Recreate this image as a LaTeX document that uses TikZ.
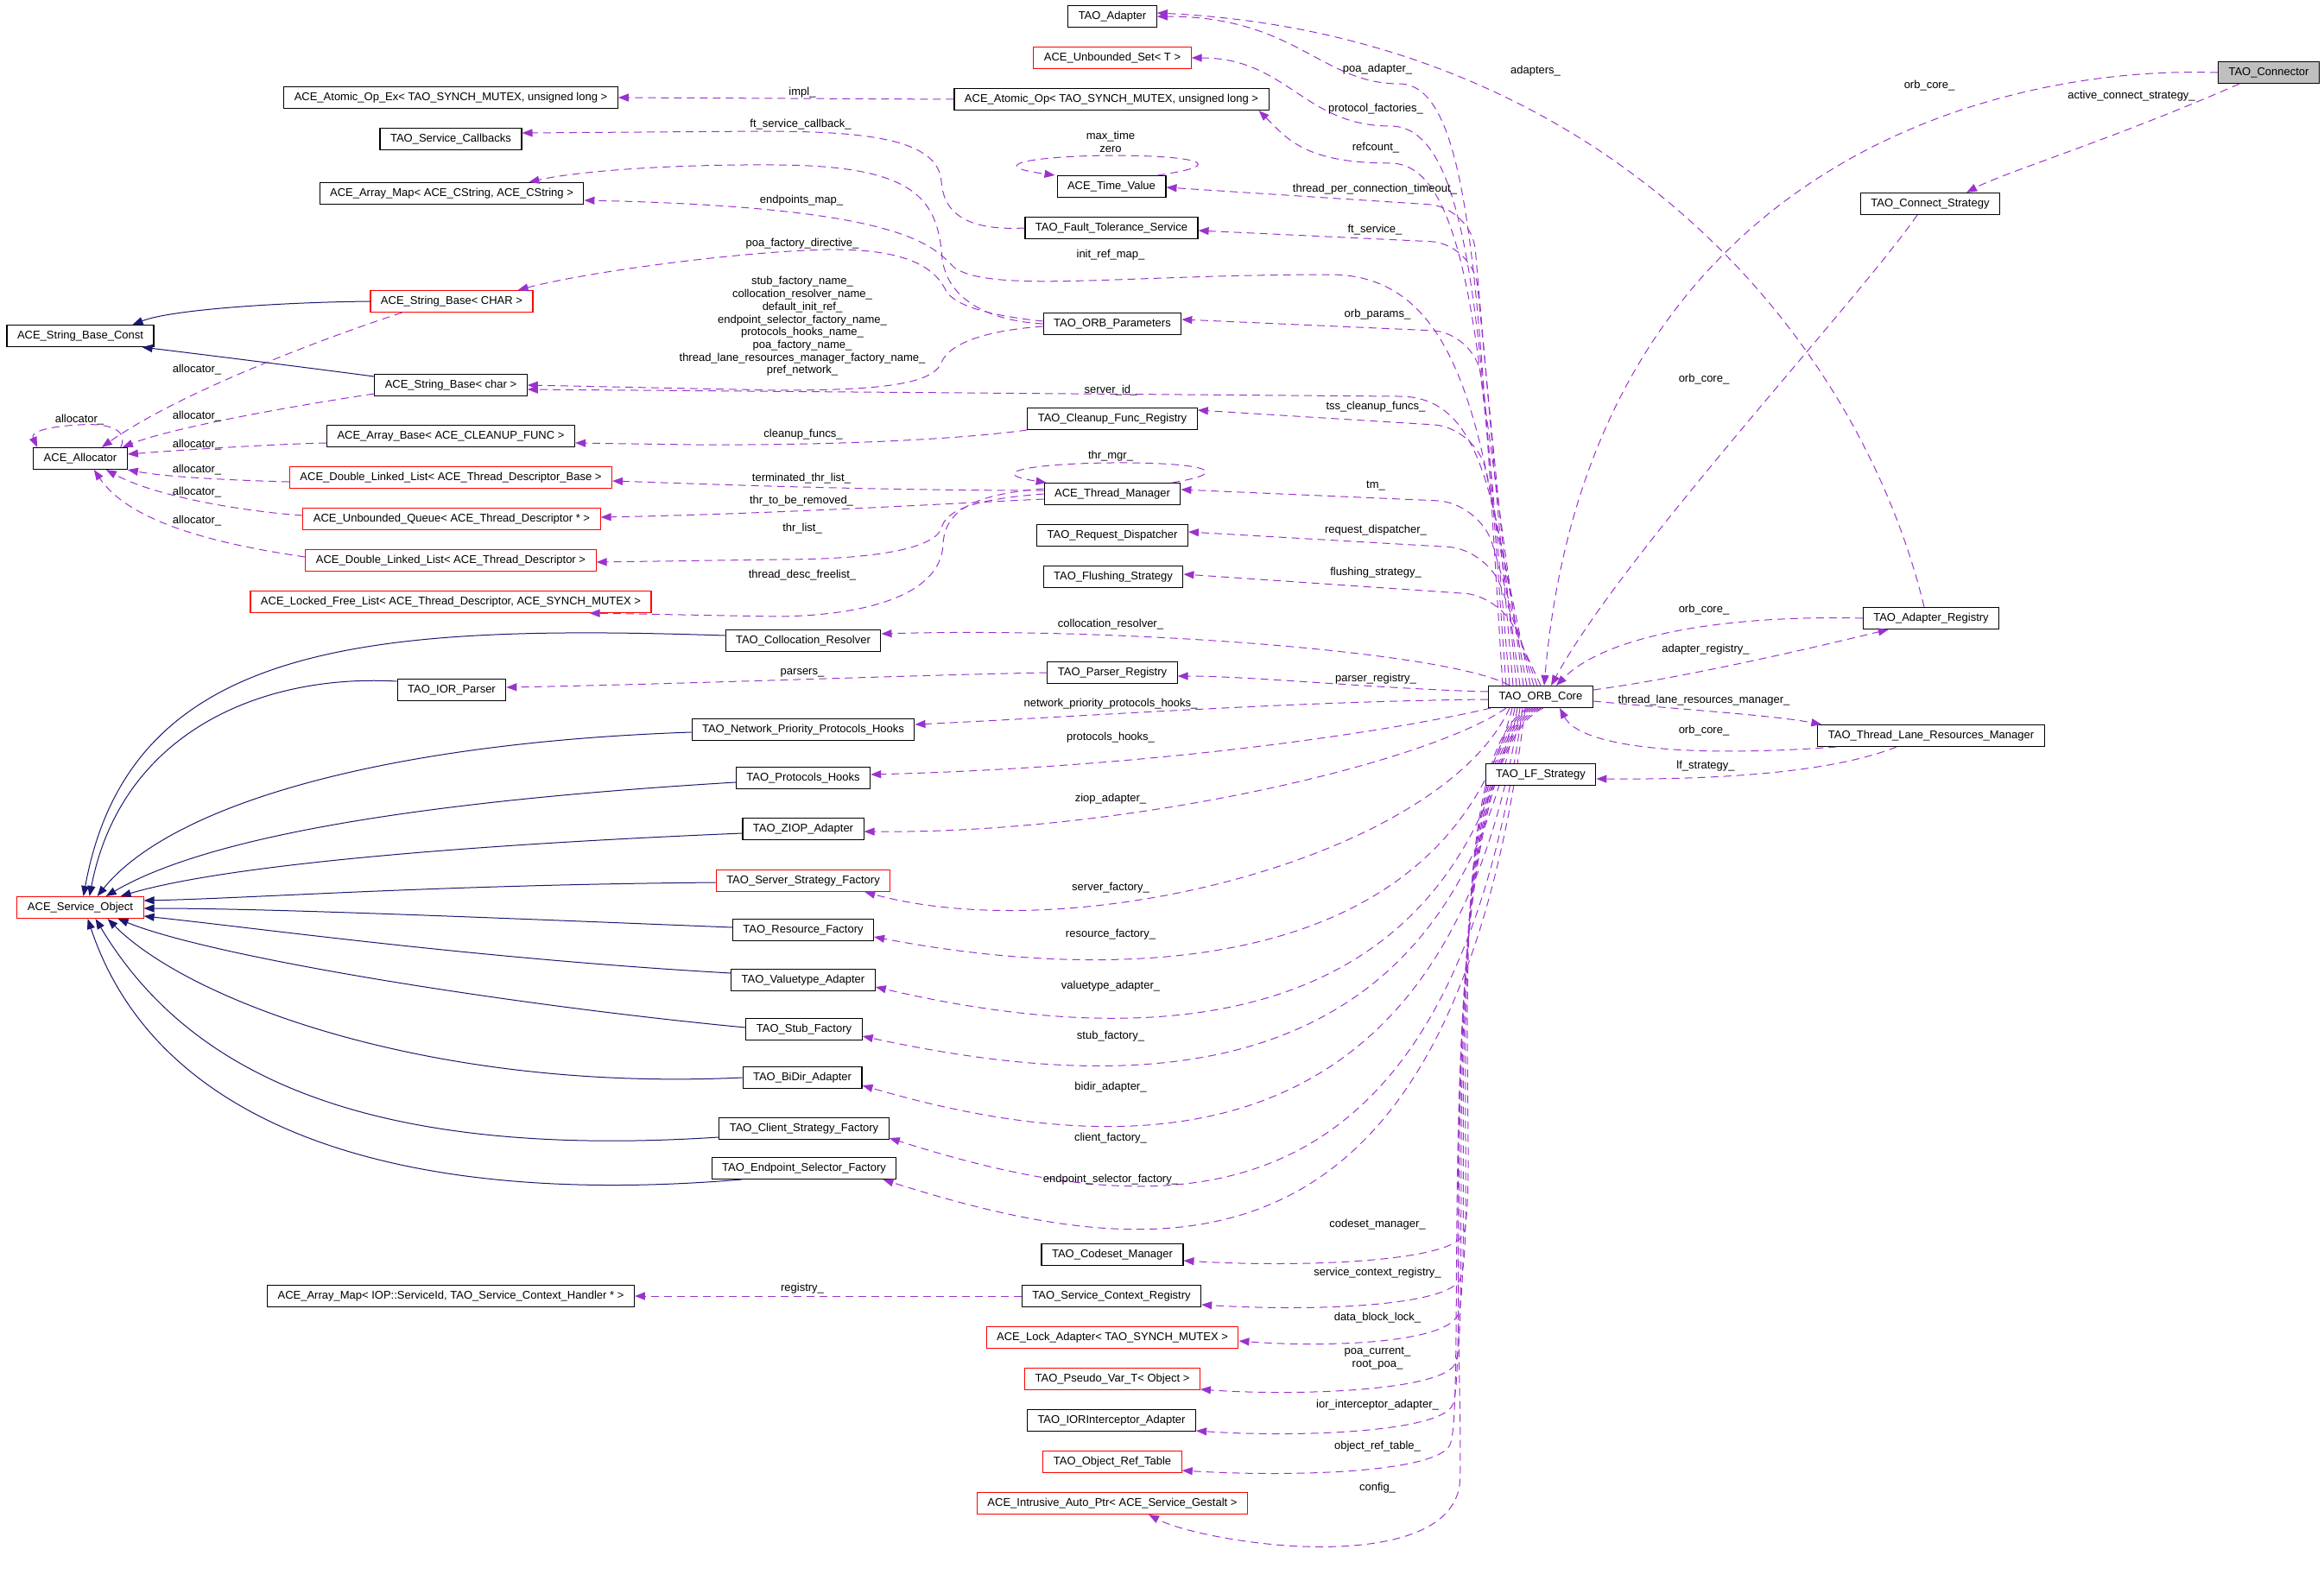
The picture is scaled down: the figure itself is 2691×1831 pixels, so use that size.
\documentclass[tikz,border=0pt]{standalone}
\usepackage{fontspec}
\setmainfont{Liberation Sans}
\usepackage{tikz}
\usetikzlibrary{arrows.meta}
\definecolor{usepurple}{HTML}{9A32CD}
\definecolor{inhblue}{HTML}{191970}
\definecolor{curgray}{HTML}{BFBFBF}

\begin{document}
\begin{tikzpicture}[
	x=1pt, y=-1pt,
	cls/.style={rectangle, draw=black, line width=1.1pt, fill=white, minimum height=25pt, inner xsep=12pt, inner ysep=0pt, font=\fontsize{13}{15}\selectfont},
	inc/.style={cls, draw=red},
	cur/.style={cls, fill=curgray},
	lbl/.style={inner sep=0pt, align=center, font=\fontsize{13}{15}\selectfont},
	use/.style={draw=usepurple, line width=1pt, dash pattern=on 9pt off 6pt, -{Triangle[length=12pt,width=9pt]}},
	inh/.style={draw=inhblue, line width=1pt, -{Triangle[length=12pt,width=9pt]}}
	]
	\useasboundingbox (0,0) rectangle (2691,1831);
	% Classes, left columns
	\node[cls] (sbconst) at (93,389) {ACE\_String\_Base\_Const};
	\node[cls] (alloc) at (93,531) {ACE\_Allocator};
	\node[inc] (svcobj) at (93,1051) {ACE\_Service\_Object};
	\node[cls] (atomex) at (522,113) {ACE\_Atomic\_Op\_Ex< TAO\_SYNCH\_MUTEX, unsigned long >};
	\node[cls] (svccb) at (522,161) {TAO\_Service\_Callbacks};
	\node[cls] (amapcs) at (523,224) {ACE\_Array\_Map< ACE\_CString, ACE\_CString >};
	\node[inc] (sbCHAR) at (523,349) {ACE\_String\_Base< CHAR >};
	\node[cls] (sbchar) at (522,446) {ACE\_String\_Base< char >};
	\node[cls] (abase) at (522,505) {ACE\_Array\_Base< ACE\_CLEANUP\_FUNC >};
	\node[inc] (dllbase) at (522,553) {ACE\_Double\_Linked\_List< ACE\_Thread\_Descriptor\_Base >};
	\node[inc] (uqueue) at (523,601) {ACE\_Unbounded\_Queue< ACE\_Thread\_Descriptor * >};
	\node[inc] (dlltd) at (522,649) {ACE\_Double\_Linked\_List< ACE\_Thread\_Descriptor >};
	\node[inc] (lfl) at (522,697) {ACE\_Locked\_Free\_List< ACE\_Thread\_Descriptor, ACE\_SYNCH\_MUTEX >};
	\node[cls] (iorp) at (523,799) {TAO\_IOR\_Parser};
	\node[cls] (amapiop) at (522,1501) {ACE\_Array\_Map< IOP::ServiceId, TAO\_Service\_Context\_Handler * >};
	% Service object children
	\node[cls] (collres) at (930,742) {TAO\_Collocation\_Resolver};
	\node[cls] (nprio) at (930,845) {TAO\_Network\_Priority\_Protocols\_Hooks};
	\node[cls] (phooks) at (930,901) {TAO\_Protocols\_Hooks};
	\node[cls] (ziop) at (930,960) {TAO\_ZIOP\_Adapter};
	\node[inc] (ssf) at (930,1020) {TAO\_Server\_Strategy\_Factory};
	\node[cls] (rf) at (930,1077) {TAO\_Resource\_Factory};
	\node[cls] (vta) at (930,1135) {TAO\_Valuetype\_Adapter};
	\node[cls] (stubf) at (931,1192) {TAO\_Stub\_Factory};
	\node[cls] (bidir) at (929,1248) {TAO\_BiDir\_Adapter};
	\node[cls] (csf) at (931,1307) {TAO\_Client\_Strategy\_Factory};
	\node[cls] (esf) at (931,1353) {TAO\_Endpoint\_Selector\_Factory};
	% Middle column
	\node[cls] (tadapter) at (1288,19) {TAO\_Adapter};
	\node[inc] (uset) at (1288,67) {ACE\_Unbounded\_Set< T >};
	\node[cls] (atom) at (1287,115) {ACE\_Atomic\_Op< TAO\_SYNCH\_MUTEX, unsigned long >};
	\node[cls] (tv) at (1287,216) {ACE\_Time\_Value};
	\node[cls] (fts) at (1287,264) {TAO\_Fault\_Tolerance\_Service};
	\node[cls] (orbp) at (1288,375) {TAO\_ORB\_Parameters};
	\node[cls] (cfr) at (1288,485) {TAO\_Cleanup\_Func\_Registry};
	\node[cls] (thrmgr) at (1288,572) {ACE\_Thread\_Manager};
	\node[cls] (rdisp) at (1288,620) {TAO\_Request\_Dispatcher};
	\node[cls] (flush) at (1289,668) {TAO\_Flushing\_Strategy};
	\node[cls] (preg) at (1288,779) {TAO\_Parser\_Registry};
	\node[cls] (csm) at (1288,1453) {TAO\_Codeset\_Manager};
	\node[cls] (scr) at (1287,1501) {TAO\_Service\_Context\_Registry};
	\node[inc] (lockad) at (1288,1549) {ACE\_Lock\_Adapter< TAO\_SYNCH\_MUTEX >};
	\node[inc] (pvar) at (1288,1597) {TAO\_Pseudo\_Var\_T< Object >};
	\node[cls] (iorint) at (1287,1645) {TAO\_IORInterceptor\_Adapter};
	\node[inc] (ort) at (1288,1693) {TAO\_Object\_Ref\_Table};
	\node[inc] (iap) at (1288,1741) {ACE\_Intrusive\_Auto\_Ptr< ACE\_Service\_Gestalt >};
	% Right part
	\node[cls] (orb) at (1784,807) {TAO\_ORB\_Core};
	\node[cls] (cstrat) at (2235,236) {TAO\_Connect\_Strategy};
	\node[cls] (areg) at (2236,716) {TAO\_Adapter\_Registry};
	\node[cls] (tlrm) at (2236,852) {TAO\_Thread\_Lane\_Resources\_Manager};
	\node[cur] (conn) at (2627,84) {TAO\_Connector};

	% Inheritance
	\draw[inh] (sbCHAR.west) .. controls (330,350) and (200,358) .. ([xshift=-25pt]sbconst.north east);
	\draw[inh] ([yshift=10pt]sbchar.west) .. controls (350,425) and (230,410) .. ([xshift=-14pt]sbconst.south east);
	\draw[inh] ([yshift=6pt]collres.west) .. controls (420,722) and (150,745) .. ([xshift=-70pt]svcobj.north east);
	\draw[inh] ([yshift=10pt]iorp.west) .. controls (300,780) and (140,850) .. ([xshift=-63pt]svcobj.north east);
	\draw[inh] ([yshift=-3pt]nprio.west) .. controls (450,860) and (200,930) .. ([xshift=-54pt]svcobj.north east);
	\draw[inh] ([yshift=-5pt]phooks.west) .. controls (450,930) and (230,975) .. ([xshift=-44pt]svcobj.north east);
	\draw[inh] ([yshift=-5pt]ziop.west) .. controls (500,980) and (250,1005) .. ([xshift=-27pt]svcobj.north east);
	\draw[inh] ([yshift=-2pt]ssf.west) .. controls (500,1025) and (300,1040) .. ([yshift=8pt]svcobj.east);
	\draw[inh] ([yshift=3pt]rf.west) .. controls (500,1060) and (300,1052) .. ([yshift=-1pt]svcobj.east);
	\draw[inh] ([yshift=8pt]vta.west) .. controls (550,1110) and (300,1075) .. ([yshift=-10pt]svcobj.east);
	\draw[inh] ([yshift=2pt]stubf.west) .. controls (600,1165) and (250,1110) .. ([xshift=-30pt]svcobj.south east);
	\draw[inh] (bidir.west) .. controls (500,1265) and (220,1160) .. ([xshift=-42pt]svcobj.south east);
	\draw[inh] ([yshift=-10pt]csf.west) .. controls (400,1345) and (210,1230) .. ([xshift=-56pt]svcobj.south east);
	\draw[inh] ([xshift=35pt]esf.south west) .. controls (450,1400) and (180,1300) .. ([xshift=-65pt]svcobj.south east);

	% Allocator members
	\draw[use] ([xshift=37pt]sbCHAR.south west) .. controls (350,400) and (200,460) .. ([xshift=-30pt]alloc.north east);
	\draw[use] ([yshift=-10pt]sbchar.west) .. controls (340,470) and (200,495) .. ([xshift=-6pt]alloc.north east);
	\draw[use] ([yshift=-8pt]abase.west) .. controls (300,515) and (200,522) .. ([yshift=5pt]alloc.east);
	\draw[use] ([yshift=-5pt]dllbase.west) .. controls (260,556) and (190,552) .. (alloc.south east);
	\draw[use] ([yshift=4pt]uqueue.west) .. controls (280,592) and (180,575) .. ([xshift=-25pt]alloc.south east);
	\draw[use] ([yshift=4pt]dlltd.west) .. controls (250,630) and (150,605) .. ([xshift=-39pt]alloc.south east);
	\draw[use] ([xshift=-8pt]alloc.north east) .. controls (150,495) and (120,490) .. (92,492) .. controls (55,494) and (35,500) .. ([xshift=5pt]alloc.north west);

	% Members of the middle column
	\draw[use] (atom.west) -- (atomex.east);
	\draw[use] (fts.west) .. controls (1110,268) and (1092,240) .. (1090,210) .. controls (1086,160) and (1000,152) .. (880,152) -- ([yshift=7pt]svccb.east);
	\draw[use] (orbp.west) .. controls (1150,372) and (1098,350) .. (1091,300) .. controls (1086,230) and (1060,192) .. (900,191) .. controls (760,190) and (660,200) .. ([xshift=-64pt]amapcs.north east);
	\draw[use] ([yshift=3pt]orbp.west) .. controls (1150,366) and (1105,355) .. (1095,336) .. controls (1080,305) and (1040,288) .. (957,289) .. controls (850,292) and (680,315) .. ([xshift=-18pt]sbCHAR.north east);
	\draw[use] ([yshift=-3pt]orbp.west) .. controls (1150,382) and (1100,395) .. (1090,420) .. controls (1080,445) and (1020,452) .. (900,452) -- (sbchar.east);
	\draw[use] (cfr.south west) .. controls (1100,510) and (950,516) .. (800,515) -- ([yshift=-8pt]abase.east);
	\draw[use] ([yshift=4pt]thrmgr.west) .. controls (1000,568) and (800,560) .. ([yshift=-4pt]dllbase.east);
	\draw[use] ([yshift=-6pt]thrmgr.west) .. controls (1100,583) and (900,595) .. ([yshift=2pt]uqueue.east);
	\draw[use] (thrmgr.west) .. controls (1130,578) and (1095,590) .. (1090,612) .. controls (1080,638) and (1000,648) .. (900,648) -- ([yshift=-2pt]dlltd.east);
	\draw[use] ([yshift=6pt]thrmgr.west) .. controls (1130,572) and (1094,590) .. (1092,630) .. controls (1090,690) and (1000,713) .. (900,714) -- ([xshift=-72pt]lfl.south east);
	\draw[use] ([xshift=-10pt]thrmgr.north east) .. controls (1440,545) and (1380,535) .. (1286,536) .. controls (1190,537) and (1140,548) .. ([xshift=3pt]thrmgr.north west);
	\draw[use] ([xshift=-10pt]tv.north east) .. controls (1430,190) and (1380,180) .. (1286,180) .. controls (1190,181) and (1140,192) .. ([xshift=-2pt]tv.north west);
	\draw[use] (preg.west) .. controls (1050,782) and (800,792) .. ([yshift=3pt]iorp.east);
	\draw[use] (scr.west) -- (amapiop.east);

	% ORB core members, upwards
	\draw[use] ([xshift=-44pt]orb.north) .. controls (1712,350) and (1706,97) .. (1620,97) .. controls (1530,97) and (1500,19) .. (tadapter.east);
	\draw[use] ([xshift=-40pt]orb.north) .. controls (1715,400) and (1706,146) .. (1610,146) .. controls (1510,146) and (1490,67) .. (uset.east);
	\draw[use] ([xshift=-36pt]orb.north) .. controls (1718,450) and (1706,189) .. (1610,189) .. controls (1510,189) and (1490,160) .. ([xshift=-12pt]atom.south east);
	\draw[use, rounded corners=50pt] ([xshift=-32pt]orb.north) -- (1704,240) -- ([yshift=-1pt]tv.east);
	\draw[use, rounded corners=50pt] ([xshift=-28pt]orb.north) -- (1706,282) -- ([yshift=-3pt]fts.east);
	\draw[use] ([xshift=-24pt]orb.north) .. controls (1722,520) and (1700,318) .. (1540,318) .. controls (1300,318) and (1150,340) .. (1105,310) .. controls (1080,285) and (1050,240) .. ([yshift=-8pt]amapcs.east);
	\draw[use, rounded corners=50pt] ([xshift=-20pt]orb.north) -- (1708,385) -- ([yshift=5pt]orbp.east);
	\draw[use] ([xshift=-16pt]orb.north) .. controls (1730,600) and (1725,459) .. (1620,459) -- ([yshift=-5pt]sbchar.east);
	\draw[use, rounded corners=50pt] ([xshift=-12pt]orb.north) -- (1710,495) -- ([yshift=10pt]cfr.east);
	\draw[use, rounded corners=50pt] ([xshift=-8pt]orb.north) -- (1714,582) -- ([yshift=5pt]thrmgr.east);
	\draw[use, rounded corners=45pt] ([xshift=-4pt]orb.north) -- (1722,636) -- ([yshift=4pt]rdisp.east);
	\draw[use, rounded corners=40pt] (orb.north) -- (1736,690) -- ([yshift=3pt]flush.east);

	% ORB core members, to the left
	\draw[use] ([xshift=25pt]orb.north west) .. controls (1680,755) and (1300,726) .. ([yshift=8pt]collres.east);
	\draw[use] ([yshift=6pt]orb.west) .. controls (1600,798) and (1450,783) .. ([yshift=-4pt]preg.east);
	\draw[use] ([yshift=-3pt]orb.west) .. controls (1500,812) and (1250,830) .. ([yshift=6pt]nprio.east);
	\draw[use] ([xshift=3pt]orb.south west) .. controls (1620,845) and (1350,888) .. ([yshift=4pt]phooks.east);
	\draw[use] ([xshift=-40pt]orb.south) .. controls (1650,885) and (1300,966) .. ([yshift=-3pt]ziop.east);
	\draw[use] ([xshift=-36pt]orb.south) .. controls (1670,990) and (1250,1100) .. ([xshift=-30pt]ssf.south east);
	\draw[use] ([xshift=-33pt]orb.south) .. controls (1672,1130) and (1300,1140) .. ([yshift=-8pt]rf.east);
	\draw[use] ([xshift=-30pt]orb.south) .. controls (1674,1220) and (1300,1210) .. ([yshift=-8pt]vta.east);
	\draw[use] ([xshift=-27pt]orb.south) .. controls (1676,1280) and (1300,1265) .. ([yshift=-8pt]stubf.east);
	\draw[use] ([xshift=-24pt]orb.south) .. controls (1678,1360) and (1300,1345) .. ([yshift=-9pt]bidir.east);
	\draw[use] ([xshift=-21pt]orb.south) .. controls (1680,1440) and (1350,1420) .. ([yshift=-11pt]csf.east);
	\draw[use] ([xshift=-18pt]orb.south) .. controls (1682,1500) and (1350,1470) .. ([xshift=-16pt]esf.south east);

	% ORB core members, downwards
	\draw[use] ([xshift=-15pt]orb.south) .. controls (1662,880) and (1716,1380) .. (1694,1430) .. controls (1680,1462) and (1500,1468) .. ([yshift=-7pt]csm.east);
	\draw[use] ([xshift=-12pt]orb.south) .. controls (1660,880) and (1713,1431) .. (1691,1481) .. controls (1677,1513) and (1520,1519) .. ([yshift=-10pt]scr.east);
	\draw[use] ([xshift=-9pt]orb.south) .. controls (1658,880) and (1710,1473) .. (1688,1523) .. controls (1674,1555) and (1540,1561) .. ([yshift=-4pt]lockad.east);
	\draw[use] ([xshift=-6pt]orb.south) .. controls (1656,880) and (1707,1529) .. (1685,1579) .. controls (1671,1611) and (1500,1617) .. ([yshift=-12pt]pvar.east);
	\draw[use] ([xshift=-3pt]orb.south) .. controls (1654,880) and (1704,1577) .. (1682,1627) .. controls (1668,1659) and (1500,1665) .. ([yshift=-12pt]iorint.east);
	\draw[use] (orb.south) .. controls (1652,880) and (1701,1623) .. (1679,1673) .. controls (1665,1705) and (1500,1711) .. ([yshift=-10pt]ort.east);
	\draw[use] ([xshift=3pt]orb.south) .. controls (1650,880) and (1698,1650) .. (1690,1720) .. controls (1680,1790) and (1560,1795) .. (1490,1790) .. controls (1420,1785) and (1360,1770) .. ([xshift=-115pt]iap.south east);

	% Right side
	\draw[use] (conn.west) .. controls (2300,75) and (1840,200) .. ([xshift=4pt]orb.north);
	\draw[use] ([xshift=25pt]conn.south west) .. controls (2450,160) and (2320,200) .. ([xshift=-39pt]cstrat.north east);
	\draw[use] ([xshift=-15pt]cstrat.south) .. controls (2150,350) and (1880,640) .. ([xshift=12pt]orb.north);
	\draw[use] ([xshift=-8pt]areg.north) .. controls (2150,380) and (1850,40) .. ([yshift=4pt]tadapter.east);
	\draw[use] (areg.west) .. controls (2000,712) and (1860,735) .. ([xshift=18pt]orb.north);
	\draw[use] ([yshift=8pt]orb.east) .. controls (1950,785) and (2100,750) .. ([xshift=30pt]areg.south west);
	\draw[use] ([yshift=-5pt]orb.east) .. controls (1950,822) and (2050,828) .. ([xshift=5pt]tlrm.north west);
	\draw[use] ([xshift=22pt]tlrm.south west) .. controls (1950,878) and (1830,865) .. ([xshift=22pt]orb.south);

	% LF strategy on top of the bundle
	\node[cls] (lfs) at (1784,897) {TAO\_LF\_Strategy};
	\draw[use] ([xshift=-40pt]tlrm.south) .. controls (2120,895) and (1990,903) .. ([yshift=-5pt]lfs.east);

	% Member names
	\node[lbl] (lb-alloc0) at (92,486) {allocator\_};
	\node[lbl] (lb-alloc1) at (228,428) {allocator\_};
	\node[lbl] (lb-alloc2) at (228,482) {allocator\_};
	\node[lbl] (lb-alloc3) at (228,515) {allocator\_};
	\node[lbl] (lb-alloc4) at (228,544) {allocator\_};
	\node[lbl] (lb-alloc5) at (228,570) {allocator\_};
	\node[lbl] (lb-alloc6) at (228,603) {allocator\_};
	\node[lbl] (lb-impl) at (929,107) {impl\_};
	\node[lbl] (lb-ftcb) at (927,144) {ft\_service\_callback\_};
	\node[lbl] (lb-epmap) at (928,232) {endpoints\_map\_};
	\node[lbl] (lb-poafd) at (929,282) {poa\_factory\_directive\_};
	\node[lbl, font=\fontsize{13}{14.7}\selectfont] (lb-names) at (929,378) {stub\_factory\_name\_\\collocation\_resolver\_name\_\\default\_init\_ref\_\\endpoint\_selector\_factory\_name\_\\protocols\_hooks\_name\_\\poa\_factory\_name\_\\thread\_lane\_resources\_manager\_factory\_name\_\\pref\_network\_};
	\node[lbl] (lb-cleanup) at (930,503) {cleanup\_funcs\_};
	\node[lbl] (lb-term) at (928,554) {terminated\_thr\_list\_};
	\node[lbl] (lb-tbr) at (928,580) {thr\_to\_be\_removed\_};
	\node[lbl] (lb-thrlist) at (929,612) {thr\_list\_};
	\node[lbl] (lb-freelist) at (929,666) {thread\_desc\_freelist\_};
	\node[lbl] (lb-parsers) at (929,779) {parsers\_};
	\node[lbl] (lb-registry) at (929,1492) {registry\_};
	\node[lbl] (lb-maxtime) at (1286,164) {max\_time\\zero};
	\node[lbl] (lb-initref) at (1286,295) {init\_ref\_map\_};
	\node[lbl] (lb-serverid) at (1286,452) {server\_id\_};
	\node[lbl] (lb-thrmgr) at (1286,528) {thr\_mgr\_};
	\node[lbl] (lb-collres) at (1286,723) {collocation\_resolver\_};
	\node[lbl] (lb-nprio) at (1286,815) {network\_priority\_protocols\_hooks\_};
	\node[lbl] (lb-phooks) at (1286,854) {protocols\_hooks\_};
	\node[lbl] (lb-ziop) at (1286,925) {ziop\_adapter\_};
	\node[lbl] (lb-ssf) at (1286,1028) {server\_factory\_};
	\node[lbl] (lb-rf) at (1286,1082) {resource\_factory\_};
	\node[lbl] (lb-vta) at (1286,1142) {valuetype\_adapter\_};
	\node[lbl] (lb-stubf) at (1286,1200) {stub\_factory\_};
	\node[lbl] (lb-bidir) at (1286,1259) {bidir\_adapter\_};
	\node[lbl] (lb-csf) at (1286,1318) {client\_factory\_};
	\node[lbl] (lb-esf) at (1286,1366) {endpoint\_selector\_factory\_};
	\node[lbl] (lb-poaad) at (1595,80) {poa\_adapter\_};
	\node[lbl] (lb-adapters) at (1778,82) {adapters\_};
	\node[lbl] (lb-protf) at (1593,126) {protocol\_factories\_};
	\node[lbl] (lb-refcount) at (1593,171) {refcount\_};
	\node[lbl] (lb-tpct) at (1592,219) {thread\_per\_connection\_timeout\_};
	\node[lbl] (lb-ftsvc) at (1592,266) {ft\_service\_};
	\node[lbl] (lb-orbp) at (1595,364) {orb\_params\_};
	\node[lbl] (lb-tss) at (1593,471) {tss\_cleanup\_funcs\_};
	\node[lbl] (lb-tm) at (1593,563) {tm\_};
	\node[lbl] (lb-rdisp) at (1593,614) {request\_dispatcher\_};
	\node[lbl] (lb-flush) at (1593,663) {flushing\_strategy\_};
	\node[lbl] (lb-preg) at (1593,786) {parser\_registry\_};
	\node[lbl] (lb-csm) at (1595,1418) {codeset\_manager\_};
	\node[lbl] (lb-scr) at (1595,1474) {service\_context\_registry\_};
	\node[lbl] (lb-dbl) at (1595,1526) {data\_block\_lock\_};
	\node[lbl] (lb-poacur) at (1595,1573) {poa\_current\_\\root\_poa\_};
	\node[lbl] (lb-iorint) at (1595,1627) {ior\_interceptor\_adapter\_};
	\node[lbl] (lb-ort) at (1595,1675) {object\_ref\_table\_};
	\node[lbl] (lb-config) at (1595,1723) {config\_};
	\node[lbl] (lb-orbc1) at (2234,99) {orb\_core\_};
	\node[lbl] (lb-acs) at (2468,111) {active\_connect\_strategy\_};
	\node[lbl] (lb-orbc2) at (1973,439) {orb\_core\_};
	\node[lbl] (lb-orbc3) at (1973,706) {orb\_core\_};
	\node[lbl] (lb-areg) at (1975,752) {adapter\_registry\_};
	\node[lbl] (lb-tlrm) at (1973,811) {thread\_lane\_resources\_manager\_};
	\node[lbl] (lb-orbc4) at (1973,846) {orb\_core\_};
	\node[lbl] (lb-lfs) at (1975,887) {lf\_strategy\_};
\end{tikzpicture}
\end{document}
